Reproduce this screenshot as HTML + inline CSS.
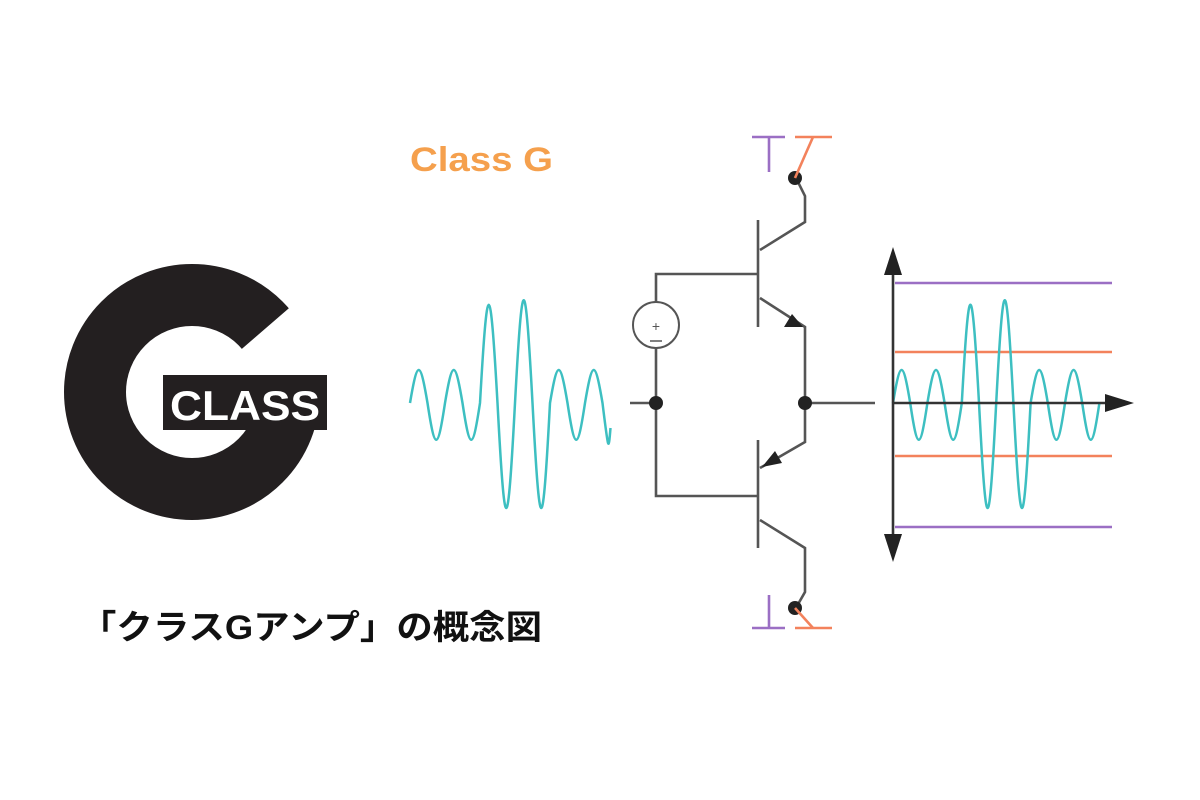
<!DOCTYPE html>
<html><head><meta charset="utf-8"><style>html,body{margin:0;padding:0;background:#fff}svg{display:block}</style></head>
<body>
<svg width="1200" height="800" viewBox="0 0 1200 800" xmlns="http://www.w3.org/2000/svg">
<rect width="1200" height="800" fill="#fff"/>
<!-- G logo -->
<circle cx="192" cy="392" r="97" fill="none" stroke="#231f20" stroke-width="62"/>
<polygon points="192,392 310,290 335,290 335,375 192,375" fill="#fff"/>
<rect x="163" y="375" width="164" height="55" fill="#231f20"/>
<text x="245" y="420" text-anchor="middle" font-family="Liberation Sans, sans-serif" font-weight="bold" font-size="42" fill="#fff" textLength="150" lengthAdjust="spacingAndGlyphs">CLASS</text>
<!-- caption -->
<text x="80" y="639" font-family="Liberation Sans, 'Noto Sans CJK JP', sans-serif" font-weight="bold" font-size="34" fill="#111" textLength="462" lengthAdjust="spacingAndGlyphs">「クラスGアンプ」の概念図</text>
<!-- Class G title -->
<text x="410" y="171" font-family="Liberation Sans, sans-serif" font-weight="bold" font-size="34" fill="#f5a04d" textLength="143" lengthAdjust="spacingAndGlyphs">Class G</text>
<!-- input wave -->
<path d="M410 403 c7.42 -44 10.08 -44 17.5 0 c7.42 49 10.08 49 17.5 0 c7.42 -44 10.08 -44 17.5 0 c7.42 49 10.08 49 17.5 0 c7.42 -131 10.08 -131 17.5 0 c7.42 140 10.08 140 17.5 0 c7.42 -137 10.08 -137 17.5 0 c7.42 140 10.08 140 17.5 0 c7.42 -44 10.08 -44 17.5 0 c7.42 49 10.08 49 17.5 0 c7.42 -44 10.08 -44 17.5 0 c6 49 6 49 8 25" fill="none" stroke="#3dbfc1" stroke-width="2.5"/>
<!-- circuit -->
<g stroke="#555" stroke-width="2.6" fill="none">
<line x1="630" y1="403" x2="656" y2="403"/>
<polyline points="656,403 656,496 758,496"/>
<polyline points="656,348 656,403"/>
<polyline points="656,302 656,274 758,274"/>
<circle cx="656" cy="325" r="23" stroke-width="2"/>
<line x1="758" y1="220" x2="758" y2="327"/>
<line x1="758" y1="440" x2="758" y2="548"/>
<polyline points="760,250 805,222 805,196 797,180"/>
<polyline points="760,298 805,327 805,442 760,468"/>
<polyline points="760,520 805,548 805,592 797,606"/>
<line x1="805" y1="403" x2="875" y2="403"/>
</g>
<text x="656" y="331" text-anchor="middle" font-family="Liberation Sans, sans-serif" font-size="14" fill="#555">+</text>
<line x1="650" y1="341" x2="662" y2="341" stroke="#555" stroke-width="1.5"/>
<polygon points="803,327 784,327 792,314" fill="#222"/>
<polygon points="762,467 775,451 782,463" fill="#222"/>
<g fill="#222">
<circle cx="656" cy="403" r="7"/><circle cx="805" cy="403" r="7"/>
<circle cx="795" cy="178" r="7"/><circle cx="795" cy="608" r="7"/>
</g>
<g stroke="#9b6fc4" stroke-width="2.6">
<line x1="752" y1="137" x2="785" y2="137"/><line x1="769" y1="137" x2="769" y2="172"/>
<line x1="752" y1="628" x2="785" y2="628"/><line x1="769" y1="595" x2="769" y2="628"/>
</g>
<g stroke="#f3825c" stroke-width="2.6">
<line x1="795" y1="137" x2="832" y2="137"/><line x1="813" y1="137" x2="795" y2="178"/>
<line x1="795" y1="628" x2="832" y2="628"/><line x1="813" y1="628" x2="795" y2="608"/>
</g>
<!-- chart -->
<g stroke-width="2.6">
<line x1="895" y1="283" x2="1112" y2="283" stroke="#9b6fc4"/>
<line x1="895" y1="527" x2="1112" y2="527" stroke="#9b6fc4"/>
<line x1="895" y1="352" x2="1112" y2="352" stroke="#f3825c"/>
<line x1="895" y1="456" x2="1112" y2="456" stroke="#f3825c"/>
</g>
<path d="M893 403 c7.3 -44 9.9 -44 17.2 0 c7.3 49 9.9 49 17.2 0 c7.3 -44 9.9 -44 17.2 0 c7.3 49 9.9 49 17.2 0 c7.3 -131 9.9 -131 17.2 0 c7.3 140 9.9 140 17.2 0 c7.3 -137 9.9 -137 17.2 0 c7.3 140 9.9 140 17.2 0 c7.3 -44 9.9 -44 17.2 0 c7.3 49 9.9 49 17.2 0 c7.3 -44 9.9 -44 17.2 0 c7.3 49 9.9 49 17.2 0" fill="none" stroke="#3dbfc1" stroke-width="2.5"/>
<g stroke="#333" stroke-width="2.6">
<line x1="893" y1="270" x2="893" y2="540"/>
<line x1="893" y1="403" x2="1110" y2="403"/>
</g>
<g fill="#222">
<polygon points="893,247 884,275 902,275"/>
<polygon points="893,562 884,534 902,534"/>
<polygon points="1134,403 1105,394 1105,412"/>
</g>
</svg>
</body></html>
